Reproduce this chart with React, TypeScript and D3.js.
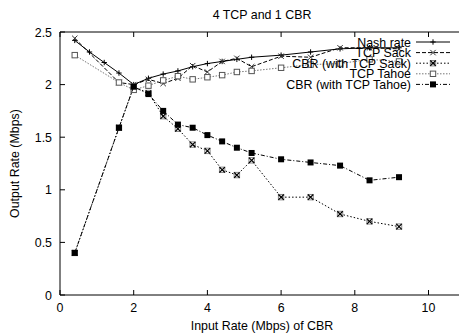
import * as d3 from 'd3'

// input rates (Mbps) of the CBR source
const xFull = [0.4, 0.8, 1.2, 1.6, 2.0, 2.4, 2.8, 3.2, 3.6, 4.0, 4.4, 4.8, 5.2, 6.0, 6.8, 7.6, 8.4, 9.2]
const xRuns = [0.4, 1.6, 2.0, 2.4, 2.8, 3.2, 3.6, 4.0, 4.4, 4.8, 5.2, 6.0, 6.8, 7.6, 8.4, 9.2]

const nashRate = [2.42, 2.31, 2.21, 2.11, 2.0, 2.06, 2.1, 2.13, 2.17, 2.2, 2.22, 2.24, 2.26, 2.28, 2.31, 2.34, 2.35, 2.35]
const tcpSack = [2.44, 2.02, 2.0, 2.05, 2.01, 2.06, 2.18, 2.12, 2.22, 2.25, 2.17, 2.27, 2.26, 2.35, 2.35, 2.34]
const cbrSack = [0.4, 1.59, 1.98, 1.92, 1.7, 1.58, 1.43, 1.37, 1.19, 1.14, 1.28, 0.93, 0.93, 0.77, 0.7, 0.65]
const tcpTahoe = [2.28, 2.02, 1.95, 1.99, 2.04, 2.08, 2.05, 2.07, 2.09, 2.12, 2.13, 2.16, 2.19, 2.2, 2.24, 2.22]
const cbrTahoe = [0.4, 1.59, 1.98, 1.91, 1.75, 1.62, 1.59, 1.52, 1.46, 1.4, 1.35, 1.29, 1.26, 1.23, 1.09, 1.12]

const xTicks = [0, 2, 4, 6, 8, 10]
const yTicks = [0, 0.5, 1, 1.5, 2, 2.5]

type Series = { name: string, xs: number[], ys: number[], dash: string, stroke: string, marker: string }

const series: Series[] = [
  { name: "Nash rate", xs: xFull, ys: nashRate, dash: "none", stroke: "#000", marker: "plus" },
  { name: "TCP Sack", xs: xRuns, ys: tcpSack, dash: "4,2", stroke: "#000", marker: "cross" },
  { name: "CBR (with TCP Sack)", xs: xRuns, ys: cbrSack, dash: "1.5,2", stroke: "#000", marker: "xbox" },
  { name: "TCP Tahoe", xs: xRuns, ys: tcpTahoe, dash: "1.5,1.5", stroke: "#777", marker: "box" },
  { name: "CBR (with TCP Tahoe)", xs: xRuns, ys: cbrTahoe, dash: "4,2,1,2", stroke: "#000", marker: "fbox" },
]

const font = "'Liberation Sans', Arial, sans-serif"
const fs = 12.4

function Marker({ kind, x, y }: { kind: string, x: number, y: number }) {
  const s = 2.7
  if (kind === "plus") return <path d={`M${x - s},${y}H${x + s}M${x},${y - s}V${y + s}`} stroke="#000" strokeWidth={1} />
  if (kind === "cross") return <path d={`M${x - s},${y - s}L${x + s},${y + s}M${x - s},${y + s}L${x + s},${y - s}`} stroke="#333" strokeWidth={1} />
  if (kind === "box") return <rect x={x - s} y={y - s} width={2 * s} height={2 * s} fill="#fff" stroke="#555" strokeWidth={1} />
  if (kind === "fbox") return <rect x={x - 3} y={y - 3} width={6} height={6} fill="#000" />
  return (
    <g>
      <rect x={x - s} y={y - s} width={2 * s} height={2 * s} fill="none" stroke="#888" strokeWidth={1} />
      <path d={`M${x - s},${y - s}L${x + s},${y + s}M${x - s},${y + s}L${x + s},${y - s}`} stroke="#000" strokeWidth={1.2} />
    </g>
  )
}

export default function App() {
  const W = 459, H = 334
  const left = 60, right = 461, top = 32, bottom = 295
  const x = d3.scaleLinear().domain([0, 10]).range([left, left + 368.5])
  const y = d3.scaleLinear().domain([0, 2.5]).range([bottom, top])
  const line = d3.line<[number, number]>().x(d => x(d[0])).y(d => y(d[1]))

  return (
    <svg width={W} height={H} style={{ position: "absolute", left: 0, top: 0, background: "#fff" }} fontFamily={font}>
      <text x={262} y={19} textAnchor="middle" fontSize={fs}>4 TCP and 1 CBR</text>
      {/* frame */}
      <path d={`M${right},${top}H${left}V${bottom}H${right}`} fill="none" stroke="#000" strokeWidth={1} />
      {yTicks.map(t => (
        <g key={"y" + t}>
          <line x1={left} x2={left + 5} y1={y(t)} y2={y(t)} stroke="#000" />
          <text x={left - 8} y={y(t) + 4.5} textAnchor="end" fontSize={fs}>{t}</text>
        </g>
      ))}
      {xTicks.map(t => (
        <g key={"x" + t}>
          <line x1={x(t)} x2={x(t)} y1={bottom} y2={bottom - 5} stroke="#000" />
          <line x1={x(t)} x2={x(t)} y1={top} y2={top + 5} stroke="#000" />
          <text x={x(t)} y={bottom + 17} textAnchor="middle" fontSize={fs}>{t}</text>
        </g>
      ))}
      <text x={262} y={330} textAnchor="middle" fontSize={fs}>Input Rate (Mbps) of CBR</text>
      <text transform={`translate(19,${(top + bottom) / 2}) rotate(-90)`} textAnchor="middle" fontSize={fs}>Output Rate (Mbps)</text>

      {series.map(s => {
        const pts = s.xs.map((v, i) => [v, s.ys[i]] as [number, number])
        return (
          <g key={s.name}>
            <path d={line(pts) || ""} fill="none" stroke={s.stroke} strokeWidth={1} strokeDasharray={s.dash} />
            {pts.map((p, i) => <Marker key={i} kind={s.marker} x={x(p[0])} y={y(p[1])} />)}
          </g>
        )
      })}

      {/* legend */}
      {series.map((s, i) => {
        const ly = 42 + i * 10.6
        return (
          <g key={"lg" + s.name}>
            <text x={411} y={ly + 4.5} textAnchor="end" fontSize={fs}>{s.name}</text>
            <line x1={416} x2={450} y1={ly} y2={ly} stroke={s.stroke} strokeDasharray={s.dash} />
            <Marker kind={s.marker} x={433} y={ly} />
          </g>
        )
      })}
    </svg>
  )
}
